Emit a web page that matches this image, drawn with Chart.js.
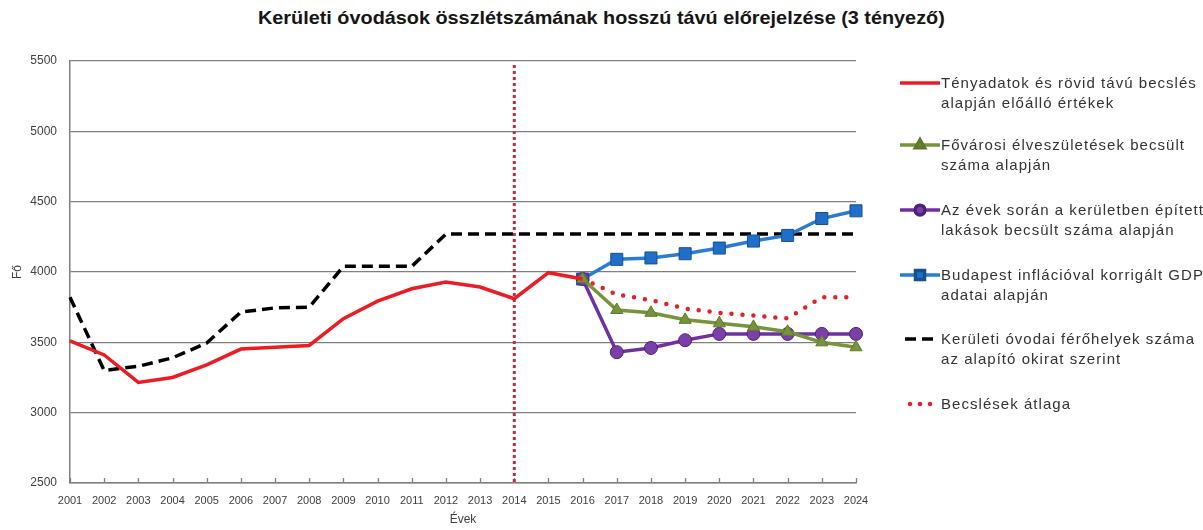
<!DOCTYPE html>
<html>
<head>
<meta charset="utf-8">
<script src="https://cdn.jsdelivr.net/npm/chart.js@4.4.1/dist/chart.umd.min.js"></script>
<style>
  html, body { margin: 0; padding: 0; background: #fff; }
  #wrap { position: relative; width: 1203px; height: 530px; overflow: hidden; font-family: 'Liberation Sans', Arial, sans-serif; }
  #title { position: absolute; top: 7px; left: 0; white-space: nowrap; font-weight: bold; font-size: 19px; color: #151515; transform-origin: left center; }
  #chart { position: absolute; left: 0; top: 0; }
  .lg-icon { position: absolute; left: 900px; }
  .lg-text { position: absolute; left: 941px; font-size: 15px; letter-spacing: 0; line-height: 20px; color: #333; white-space: nowrap; }
  #probe { position: absolute; visibility: hidden; font-size: 15px; letter-spacing: 0; white-space: nowrap; }
</style>
</head>
<body>
<div id="wrap">
  <div id="title">Kerületi óvodások összlétszámának hosszú távú előrejelzése (3 tényező)</div>
  <canvas id="chart" width="1203" height="530"></canvas>
  <span id="probe"></span>
</div>
<script>
// ── Data ─────────────────────────────────────────────────────────────────────

const years = ['2001', '2002', '2003', '2004', '2005', '2006', '2007', '2008', '2009', '2010', '2011', '2012',
  '2013', '2014', '2015', '2016', '2017', '2018', '2019', '2020', '2021', '2022', '2023', '2024'];
const yTicks = [2500, 3000, 3500, 4000, 4500, 5000, 5500];
const splitYear = '2014';

// 2001–2016
const tenyadatok = [3510, 3410, 3215, 3250, 3340, 3452, 3465, 3478, 3668, 3793, 3881, 3928,
  3893, 3810, 3995, 3950];
// 2001–2024
const feroHelyek = [3820, 3300, 3330, 3390, 3495, 3715, 3745, 3750, 4040, 4040, 4040, 4270,
  4270, 4270, 4270, 4270, 4270, 4270, 4270, 4270, 4270, 4270, 4270, 4270];
// 2016–2024
const elveszuletes = [3950, 3730, 3710, 3660, 3635, 3610, 3575, 3500, 3465];
const lakasok = [3950, 3430, 3460, 3515, 3560, 3560, 3560, 3560, 3560];
const gdp = [3950, 4090, 4100, 4130, 4170, 4220, 4260, 4380, 4435];
const atlag = [3950, 3840, 3800, 3740, 3710, 3690, 3670, 3820, 3820];

const legendLabels = [
  ['Tényadatok és rövid távú becslés', 'alapján előálló értékek'],
  ['Fővárosi élveszületések becsült', 'száma alapján'],
  ['Az évek során a kerületben épített', 'lakások becsült száma alapján'],
  ['Budapest inflációval korrigált GDP', 'adatai alapján'],
  ['Kerületi óvodai férőhelyek száma', 'az alapító okirat szerint'],
  ['Becslések átlaga'],
];

// ── Helpers ──────────────────────────────────────────────────────────────────

const padEnd = arr => arr.concat(Array(years.length - arr.length).fill(null));
const padStart = arr => Array(years.length - arr.length).fill(null).concat(arr);

Chart.defaults.font.family = "'Liberation Sans', Arial, sans-serif";
Chart.defaults.color = '#404040';

// ── Plugins ──────────────────────────────────────────────────────────────────

const markerPlugin = {
  id: 'marker',
  afterDatasetsDraw(chart) {
    const { ctx, chartArea, scales: { x } } = chart;
    ctx.save();
    // inner tick marks on the x axis
    ctx.strokeStyle = '#7f7f7f';
    ctx.lineWidth = 1.3;
    years.forEach((y, i) => {
      const px = Math.round(x.getPixelForValue(i)) + 0.5;
      ctx.beginPath();
      ctx.moveTo(px, chartArea.bottom);
      ctx.lineTo(px, chartArea.bottom - 5);
      ctx.stroke();
    });
    // vertical divider at the split year
    const sx = x.getPixelForValue(years.indexOf(splitYear));
    ctx.strokeStyle = '#b8303c';
    ctx.lineWidth = 3;
    ctx.setLineDash([3, 3]);
    ctx.beginPath();
    ctx.moveTo(sx, chartArea.top + 4);
    ctx.lineTo(sx, chartArea.bottom);
    ctx.stroke();
    ctx.restore();
  },
};

// ── Chart ────────────────────────────────────────────────────────────────────

const datasets = [
  {
    label: legendLabels[0].join(' '),
    data: padEnd(tenyadatok),
    borderColor: '#ea1c24', borderWidth: 3.5, pointRadius: 0,
  },
  {
    label: legendLabels[1].join(' '),
    data: padStart(elveszuletes),
    borderColor: '#77933c', borderWidth: 3.5,
    pointStyle: 'triangle', pointRadius: 7, pointBackgroundColor: '#77933c', pointBorderColor: '#5f7a2c', pointBorderWidth: 1,
  },
  {
    label: legendLabels[2].join(' '),
    data: padStart(lakasok),
    borderColor: '#7030a0', borderWidth: 3.5,
    pointStyle: 'circle', pointRadius: 6.5, pointBackgroundColor: '#7a3fa8', pointBorderColor: '#4e2378', pointBorderWidth: 1,
  },
  {
    label: legendLabels[3].join(' '),
    data: padStart(gdp),
    borderColor: '#2b7bd3', borderWidth: 3.5,
    pointStyle: 'rect', pointRadius: 8.5, pointBackgroundColor: '#1f6fc8', pointBorderColor: '#1a4f8f', pointBorderWidth: 1,
  },
  {
    label: legendLabels[4].join(' '),
    data: feroHelyek,
    borderColor: '#000', borderWidth: 3.5, borderDash: [11, 6], pointRadius: 0,
  },
  {
    label: legendLabels[5].join(' '),
    data: padStart(atlag),
    borderColor: '#e3202a', borderWidth: 4.5, borderDash: [0, 11], borderCapStyle: 'round', pointRadius: 0,
  },
];

const chart = new Chart(document.getElementById('chart'), {
  type: 'line',
  data: { labels: years, datasets },
  options: {
    responsive: false,
    animation: false,
    layout: { padding: { top: 61, right: 347, left: 0, bottom: 0 } },
    plugins: { legend: { display: false }, tooltip: { enabled: false } },
    elements: { line: { tension: 0 } },
    scales: {
      x: {
        offset: false,
        grid: { display: false, drawTicks: false },
        border: { color: '#7f7f7f', width: 1.5 },
        ticks: { font: { size: 11 }, padding: 11, autoSkip: false, maxRotation: 0 },
        title: { display: true, text: 'Évek', font: { size: 12 }, padding: { top: 0, bottom: 3 } },
        afterFit(s) { s.height = 47; },
      },
      y: {
        min: 2500, max: 5500,
        afterBuildTicks(s) { s.ticks = yTicks.map(v => ({ value: v })); },
        ticks: { font: { size: 12 }, padding: 13, callback: v => String(v) },
        grid: { color: '#7f7f7f', lineWidth: 1.3, drawTicks: false },
        border: { color: '#7f7f7f', width: 1.5 },
        title: { display: true, text: 'Fő', font: { size: 12 }, padding: { top: 10, bottom: 0 } },
        afterFit(s) { s.width = 70; },
      },
    },
  },
  plugins: [markerPlugin],
});

// ── Legend ───────────────────────────────────────────────────────────────────

const legendTops = [83, 145, 210, 275, 339, 404];
const wrap = document.getElementById('wrap');

// spread the letters so the first line keeps its original width (256px)
const probe = document.getElementById('probe');
probe.textContent = legendLabels[0][0];
const probeW = probe.getBoundingClientRect().width;
const spacing = (256 - probeW) / legendLabels[0][0].length;

datasets.forEach((ds, i) => {
  const cy = legendTops[i];
  const icon = document.createElement('canvas');
  icon.className = 'lg-icon';
  icon.width = 40; icon.height = 20;
  icon.style.top = (cy - 10) + 'px';
  const c = icon.getContext('2d');
  c.strokeStyle = ds.borderColor;
  c.lineWidth = ds.borderWidth;
  if (ds.borderDash) {
    c.setLineDash(i === 4 ? [11, 6] : [0, 10]);
    c.lineCap = ds.borderCapStyle === 'round' ? 'round' : 'butt';
    c.beginPath();
    c.moveTo(i === 4 ? 5 : 10, 10);
    c.lineTo(i === 4 ? 34 : 32, 10);
    c.stroke();
  } else {
    c.beginPath();
    c.moveTo(0, 10);
    c.lineTo(40, 10);
    c.stroke();
  }
  if (ds.pointRadius) {
    c.setLineDash([]);
    c.fillStyle = ds.pointBackgroundColor;
    c.strokeStyle = ds.pointBorderColor;
    Chart.helpers.drawPoint(c, {
      pointStyle: ds.pointStyle, radius: ds.pointRadius * 0.75, borderWidth: 1, rotation: 0,
    }, 20, 10);
  }
  wrap.appendChild(icon);

  const txt = document.createElement('div');
  txt.className = 'lg-text';
  txt.style.top = (cy - 10) + 'px';
  txt.style.letterSpacing = spacing.toFixed(2) + 'px';
  txt.innerHTML = legendLabels[i].join('<br>');
  wrap.appendChild(txt);
});

// fit title to its original width, centred over the page
const title = document.getElementById('title');
const tw = title.getBoundingClientRect().width;
title.style.transform = 'scaleX(' + (687 / tw).toFixed(3) + ')';
title.style.left = (601 - 687 / 2) + 'px';
</script>
</body>
</html>
